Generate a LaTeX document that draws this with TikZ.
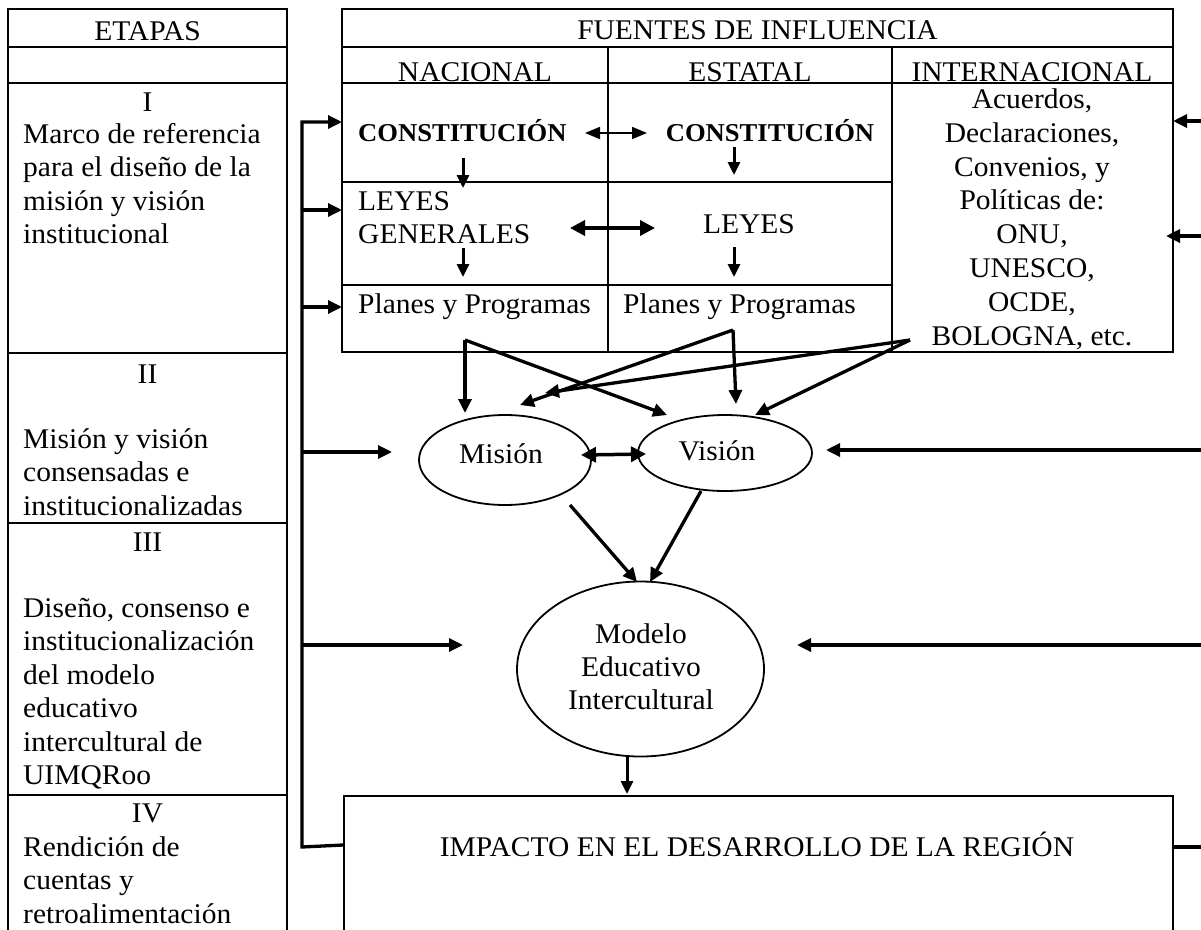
\documentclass[tikz,border=0pt]{standalone}
\usepackage{fontspec}
\setmainfont{Liberation Serif}[FakeStretch=1.035]
\usetikzlibrary{arrows.meta,shapes.geometric}
\newcommand\fs{\fontsize{28.5}{33.5}\selectfont}
\newcommand\fsb{\fontsize{25.7}{31}\selectfont\bfseries}
\begin{document}
\begin{tikzpicture}[x=1pt,y=-1pt,
  grid/.style={line width=1.8pt},
  txt/.style={inner sep=0pt,font=\fs,anchor=base},
  ltxt/.style={inner sep=0pt,font=\fs,anchor=base west},
  btxt/.style={inner sep=0pt,font=\fsb,anchor=base},
  arr/.style={line width=3.3pt,-{Triangle[length=14pt,width=13pt]}},
  sarr/.style={line width=3pt,-{Triangle[length=13pt,width=12pt]}},
  darr/.style={line width=3.5pt,{Triangle[length=15pt,width=15pt]}-{Triangle[length=15pt,width=15pt]}},
  tarr/.style={line width=1.8pt,{Triangle[length=15pt,width=12pt]}-{Triangle[length=15pt,width=12pt]}},
  ell/.style={ellipse,draw,line width=1.8pt,inner sep=0pt},
  plain/.style={line width=3.3pt}]
\useasboundingbox (0,0) rectangle (1201,929);
\fill[white] (0,0) rectangle (1201,929);

% ---------- left table (ETAPAS)
\draw[grid] (8,945) -- (8,9) -- (287,9) -- (287,945);
\foreach \yy in {47,83,353,523,795} \draw[grid] (8,\yy) -- (287,\yy);

% ---------- right table (FUENTES)
\draw[grid] (342,9) rectangle (1173,352);
\draw[grid] (342,47) -- (1173,47);
\draw[grid] (342,83) -- (1173,83);
\draw[grid] (608,47) -- (608,352);
\draw[grid] (892,47) -- (892,352);
\draw[grid] (342,182) -- (892,182);
\draw[grid] (342,285) -- (892,285);

% ---------- headers
\node[txt] (etapas) at (147.5,40) {ETAPAS};
\node[txt] (fuentes) at (757.5,39.5) {FUENTES DE INFLUENCIA};
\node[txt] (nac) at (475,81.5) {NACIONAL};
\node[txt] (est) at (750,81.5) {ESTATAL};
\node[txt] (intl) at (1032,81.5) {INTERNACIONAL};

% ---------- left column texts
\node[txt] (e1) at (147.5,111.5) {I};
\node[ltxt] (e1a) at (23,143.3) {Marco de referencia};
\node[ltxt] (e1b) at (23,176.8) {para el diseño de la};
\node[ltxt] (e1c) at (23,210.3) {misión y visión};
\node[ltxt] (e1d) at (23,243.8) {institucional};

\node[txt] (e2) at (147.5,383.5) {II};
\node[ltxt] (e2a) at (23,448.3) {Misión y visión};
\node[ltxt] (e2b) at (23,481.8) {consensadas e};
\node[ltxt] (e2c) at (23,515.3) {institucionalizadas};

\node[txt] (e3) at (147.5,551.7) {III};
\node[ltxt] (e3a) at (23,617) {Diseño, consenso e};
\node[ltxt] (e3b) at (23,650.5) {institucionalización};
\node[ltxt] (e3c) at (23,684) {del modelo};
\node[ltxt] (e3d) at (23,717.5) {educativo};
\node[ltxt] (e3e) at (23,751) {intercultural de};
\node[ltxt] (e3f) at (23,784.5) {UIMQRoo};

\node[txt] (e4) at (147.5,822.5) {IV};
\node[ltxt] (e4a) at (23,856) {Rendición de};
\node[ltxt] (e4b) at (23,889.5) {cuentas y};
\node[ltxt] (e4c) at (23,923) {retroalimentación};

% ---------- nacional / estatal cells
\node[btxt,anchor=base west] (natC) at (358,141.5) {CONSTITUCIÓN};
\node[btxt] (estC) at (770,141.5) {CONSTITUCIÓN};
\node[ltxt] (natL1) at (358,210) {LEYES};
\node[ltxt] (natL2) at (358,243) {GENERALES};
\node[txt] (estL) at (749,233) {LEYES};
\node[ltxt] (natP) at (358,313.5) {Planes y Programas};
\node[ltxt] (estP) at (623,313.5) {Planes y Programas};

% ---------- internacional cell
\node[txt] (i1) at (1032,108.5) {Acuerdos,};
\node[txt] (i2) at (1032,142.3) {Declaraciones,};
\node[txt] (i3) at (1032,176.1) {Convenios, y};
\node[txt] (i4) at (1032,209.9) {Políticas de:};
\node[txt] (i5) at (1032,243.7) {ONU,};
\node[txt] (i6) at (1032,277.5) {UNESCO,};
\node[txt] (i7) at (1032,311.3) {OCDE,};
\node[txt] (i8) at (1032,345.1) {BOLOGNA, etc.};

% ---------- ellipses
\node[ell,minimum width=172pt,minimum height=90pt] (mision) at (505,460) {};
\node[txt] (misiont) at (501,463.3) {Misión};
\node[ell,minimum width=174pt,minimum height=76pt] (vision) at (725,453) {};
\node[txt] (visiont) at (717,460.7) {Visión};
\node[ell,minimum width=247pt,minimum height=175pt] (modelo) at (640.5,669) {};
\node[txt] (mod1) at (641,643) {Modelo};
\node[txt] (mod2) at (641,676.5) {Educativo};
\node[txt] (mod3) at (641,709) {Intercultural};

% ---------- impacto box
\node[draw,line width=1.8pt,inner sep=0pt,anchor=north west,minimum width=829pt,minimum height=170pt] (impbox) at (343,795) {};
\node[txt] (impact) at (757,856) {IMPACTO EN EL DESARROLLO DE LA REGIÓN};

% ---------- coordinates for connector ends
\coordinate (fb1) at (302,122);
\coordinate (fb2) at (302,210);
\coordinate (fb3) at (302,307);
\coordinate (fb4) at (302,452);
\coordinate (fb5) at (302,645);
\coordinate (fb6) at (302,847);
\coordinate (impL) at (343,845);
\coordinate (t1) at (342,122);
\coordinate (t2) at (342,210);
\coordinate (t3) at (342,307);
\coordinate (t4) at (392,452);
\coordinate (t5) at (463,645);

\coordinate (r1) at (1210,121);
\coordinate (r2) at (1210,236);
\coordinate (r3) at (1210,450);
\coordinate (r4) at (1210,645);
\coordinate (r5) at (1210,847);
\coordinate (u1) at (1173,121);
\coordinate (u2) at (1166,236);
\coordinate (u3) at (826,450);
\coordinate (u4) at (797,645);
\coordinate (impR) at (1172,847);

\coordinate (cA) at (585,133);
\coordinate (cB) at (647,133);
\coordinate (lA) at (570,228);
\coordinate (lB) at (655,228);
\coordinate (nd1) at (463,158);
\coordinate (nd2) at (463,188);
\coordinate (nd3) at (463,248);
\coordinate (nd4) at (463,277);
\coordinate (ed1) at (734,147);
\coordinate (ed2) at (734,175);
\coordinate (ed3) at (734,247);
\coordinate (ed4) at (734,277);

\coordinate (p1) at (465,340);
\coordinate (p2) at (733,330);
\coordinate (p3) at (910,340);
\coordinate (m1) at (465,413);
\coordinate (m2) at (520,405);
\coordinate (m3) at (545,393);
\coordinate (v1) at (667,415);
\coordinate (v2) at (736,404);
\coordinate (v3) at (755,415);

\coordinate (mv1) at (581,455);
\coordinate (mv2) at (646,454);
\coordinate (mo1) at (570,505);
\coordinate (mo2) at (637,582);
\coordinate (vo1) at (701,491);
\coordinate (vo2) at (650,582);
\coordinate (oi1) at (627,756);
\coordinate (oi2) at (627,794);

% ---------- left feedback line
\draw[arr,line join=miter] (impL) -- (fb6) -- (fb1) -- (t1);
\draw[arr] (fb2) -- (t2);
\draw[arr] (fb3) -- (t3);
\draw[arr] (fb4) -- (t4);
\draw[arr] (fb5) -- (t5);

% ---------- right feedback lines
\draw[arr] (r1) -- (u1);
\draw[arr] (r2) -- (u2);
\draw[arr] (r3) -- (u3);
\draw[arr] (r4) -- (u4);
\draw[plain] (impR) -- (r5);

% ---------- inside table
\draw[tarr] (cA) -- (cB);
\draw[darr] (lA) -- (lB);
\draw[sarr] (nd1) -- (nd2);
\draw[sarr] (nd3) -- (nd4);
\draw[sarr] (ed1) -- (ed2);
\draw[sarr] (ed3) -- (ed4);

% ---------- planes -> mision / vision
\draw[arr] (p1) -- (m1);
\draw[arr] (p1) -- (v1);
\draw[arr] (p2) -- (v2);
\draw[arr] (p2) -- (m2);
\draw[arr] (p3) -- (m3);
\draw[arr] (p3) -- (v3);

% ---------- mision / vision / modelo
\draw[darr] (mv1) -- (mv2);
\draw[arr] (mo1) -- (mo2);
\draw[arr] (vo1) -- (vo2);
\draw[sarr] (oi1) -- (oi2);
\end{tikzpicture}
\end{document}
